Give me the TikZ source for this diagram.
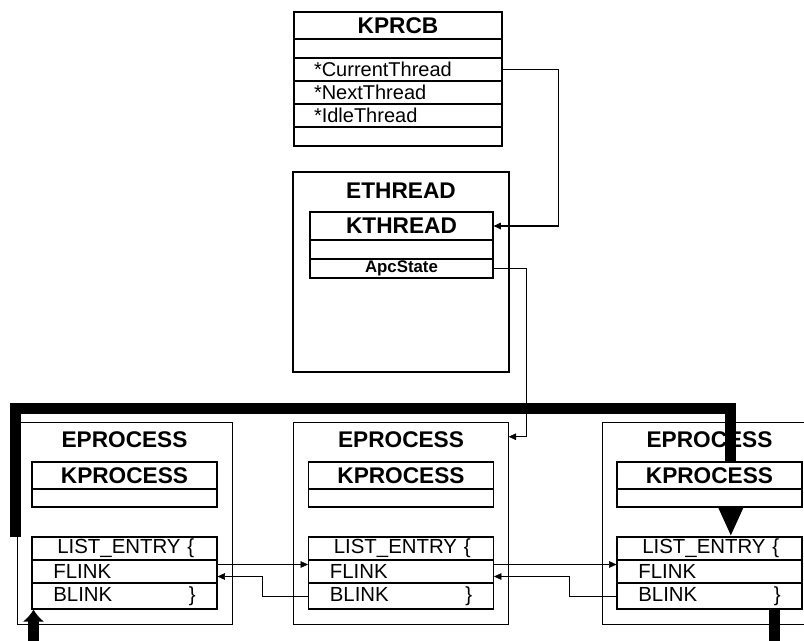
\documentclass[tikz,border=0pt]{standalone}
\usepackage{fontspec}
\setmainfont{Liberation Sans}
\usepackage{tikz}
\usetikzlibrary{arrows.meta, calc}

\pgfdeclarelayer{back}
\pgfsetlayers{back,main}

\begin{document}
\begin{tikzpicture}[x=0.75pt, y=-0.75pt, line width=0.9pt,
  >={Triangle[length=5.5pt, width=5pt]},
  hdrbox/.style={draw, rectangle, fill=white, inner sep=0pt, font=\bfseries\fontsize{17}{20}\selectfont},
  fieldbox/.style={draw, rectangle, fill=white, inner ysep=0pt, inner xsep=15pt, align=left, font=\fontsize{15}{17}\selectfont},
  listrow/.style={fieldbox, inner xsep=16pt, text width=106.75pt, minimum height=17.25pt, font=\fontsize{15.3}{18}\selectfont},
  boxtitle/.style={inner sep=0pt, font=\bfseries\fontsize{17}{20}\selectfont},
  outerbox/.style={draw, rectangle, inner sep=0pt},
  bigline/.style={line width=8.25pt}]
\useasboundingbox (0,0) rectangle (804,640);
\clip (0,0) rectangle (804,640);

% KPRCB
\node[hdrbox, minimum width=156pt, minimum height=20.25pt] (kprcb) at (398,25.5) {KPRCB};
\node[hdrbox, minimum width=156pt, minimum height=14.25pt] (kpad1) at (398,48.5) {};
\node[fieldbox, text width=126pt, minimum height=17.25pt] (cur) at (398,69.5) {*CurrentThread};
\node[fieldbox, text width=126pt, minimum height=17.25pt] (next) at (398,92.5) {*NextThread};
\node[fieldbox, text width=126pt, minimum height=17.25pt] (idle) at (398,115.5) {*IdleThread};
\node[hdrbox, minimum width=156pt, minimum height=14.25pt] (kpad2) at (398,136.5) {};

% ETHREAD
\node[outerbox, minimum width=162pt, minimum height=150pt] (ethread) at (401,272) {};
\node[boxtitle] (ethrlbl) at (401,191) {ETHREAD};
\node[hdrbox, minimum width=137.25pt, minimum height=21pt] (kthr) at (401.5,226) {KTHREAD};
\node[hdrbox, minimum width=137.25pt, minimum height=14.25pt] (kthrpad) at (401.5,249.5) {};
\node[hdrbox, minimum width=137.25pt, minimum height=14.25pt, font=\bfseries\fontsize{12.6}{14}\selectfont] (apc) at (401.5,268.5) {ApcState};

\draw[->] (cur.east) -- ++(56,0) |- (kthr.east);

% KPROCESS blocks
\node[hdrbox, minimum width=138.75pt, minimum height=20.25pt] (kp1) at (124.5,475.5) {KPROCESS};
\node[hdrbox, minimum width=138.75pt, minimum height=13.5pt] (kp1pad) at (124.5,498) {};
\node[hdrbox, minimum width=138.75pt, minimum height=20.25pt] (kp2) at (401,475.5) {KPROCESS};
\node[hdrbox, minimum width=138.75pt, minimum height=13.5pt] (kp2pad) at (401,498) {};
\node[hdrbox, minimum width=138.75pt, minimum height=20.25pt] (kp3) at (709.5,475.5) {KPROCESS};
\node[hdrbox, minimum width=138.75pt, minimum height=13.5pt] (kp3pad) at (709.5,498) {};

% LIST_ENTRY blocks
\node[listrow] (le1) at (124.5,548.5) {\hspace*{3pt}LIST\_ENTRY \{};
\node[listrow] (fl1) at (124.5,571.5) {FLINK};
\node[listrow, minimum height=19.5pt] (bl1) at (124.5,596) {BLINK\hfill\}};
\node[listrow] (le2) at (401,548.5) {\hspace*{3pt}LIST\_ENTRY \{};
\node[listrow] (fl2) at (401,571.5) {FLINK};
\node[listrow, minimum height=19.5pt] (bl2) at (401,596) {BLINK\hfill\}};
\node[listrow] (le3) at (709.5,548.5) {\hspace*{3pt}LIST\_ENTRY \{};
\node[listrow] (fl3) at (709.5,571.5) {FLINK};
\node[listrow, minimum height=19.5pt] (bl3) at (709.5,596) {BLINK\hfill\}};

% EPROCESS shells and the thick link behind the blocks
\begin{pgfonlayer}{back}
\node[outerbox, minimum width=161.25pt, minimum height=151.5pt] (ep1) at (124.5,523) {};
\node[outerbox, minimum width=161.25pt, minimum height=151.5pt] (ep2) at (401,523) {};
\node[outerbox, minimum width=161.25pt, minimum height=151.5pt] (ep3) at (709.5,523) {};
\node[boxtitle] (ep1lbl) at (124.5,440) {EPROCESS};
\node[boxtitle] (ep2lbl) at (401,440) {EPROCESS};
\node[boxtitle] (ep3lbl) at (709.5,440) {EPROCESS};

\coordinate (linkstart) at (15.5,537);
\coordinate (linktop) at (15.5,408);
\draw[bigline, -{Triangle[length=21.75pt, width=17.25pt]}] (linkstart) -- (linktop) -| ([xshift=16pt]le3.north);
\end{pgfonlayer}

% ApcState to process
\draw[->] (apc.east) -- ++(33,0) |- ($(ep2.north east)+(0,15)$);

% Flink / Blink links
\draw[->] ($(fl1.east)+(0,-7)$) -- ($(fl2.west)+(0,-7)$);
\draw[->] (bl2.west) -- ++(-46,0) |- ($(fl1.east)+(0,5)$);
\draw[->] ($(fl2.east)+(0,-7)$) -- ($(fl3.west)+(0,-7)$);
\draw[->] (bl3.west) -- ++(-47,0) |- ($(fl2.east)+(0,5)$);

% Links leaving the picture
\coordinate (tailin) at (33.5,650);
\coordinate (tailout) at (774.5,650);
\draw[bigline, -{Latex[length=9pt, width=16.5pt]}] (tailin) -- (tailin |- bl1.south);
\draw[bigline] (tailout |- bl3.south) -- (tailout);
\end{tikzpicture}
\end{document}
